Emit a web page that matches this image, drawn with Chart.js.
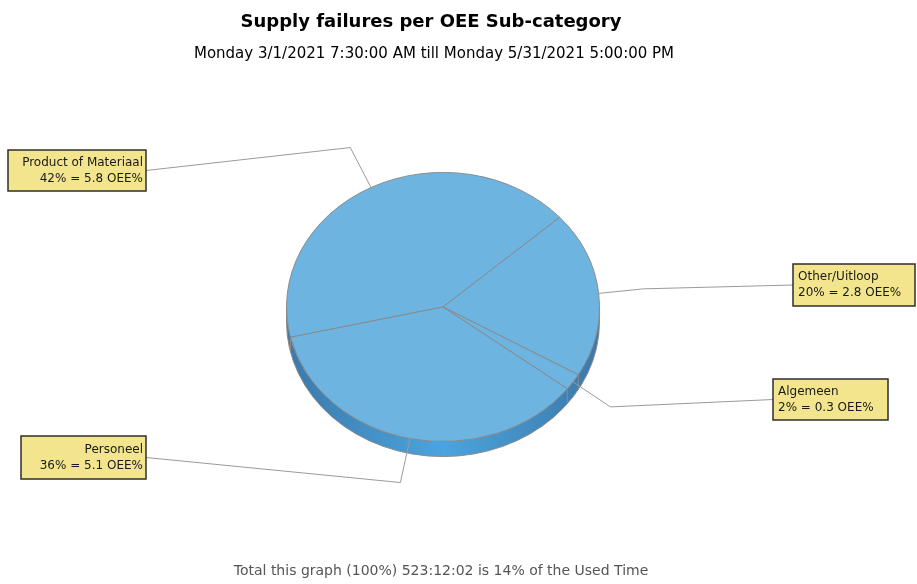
<!DOCTYPE html>
<html lang="en">
<head>
<meta charset="UTF-8">
<title>Supply failures per OEE Sub-category</title>
<script src="https://cdn.jsdelivr.net/npm/chart.js@4"></script>
<style>
html,body{margin:0;padding:0;background:#fff}
#wrap{position:relative;width:917px;height:584px}
</style>
</head>
<body>
<div id="wrap"><canvas id="chart"></canvas></div>
<script>
const categories = ['Product of Materiaal', 'Other/Uitloop', 'Algemeen', 'Personeel'];
const sharePct = [42, 20, 2, 36];
const oeePct = [5.8, 2.8, 0.3, 5.1];
const titleText = 'Supply failures per OEE Sub-category';
const periodText = 'Monday 3/1/2021 7:30:00 AM till Monday 5/31/2021 5:00:00 PM';
const footerText = 'Total this graph (100%) 523:12:02 is 14% of the Used Time';

// callout boxes, one per category (same order)
const callouts = [
  {x: 8, y: 150, w: 138, h: 41, align: 'right'},
  {x: 793, y: 264, w: 122, h: 42, align: 'left'},
  {x: 773, y: 379, w: 115, h: 41, align: 'left'},
  {x: 21, y: 436, w: 125, h: 43, align: 'right'}
];
const TILT = 0.86;   // vertical squash of the pie face
const DEPTH = 15;    // rim thickness
const LEAD = 45;     // first leg of the leader line
const FONT = '"DejaVu Sans", Tahoma, sans-serif';

const tiltedPie = {
  id: 'tiltedPie',
  beforeDatasetsDraw(chart) {
    const ctx = chart.ctx;
    const arcs = chart.getDatasetMeta(0).data;
    const cx = arcs[0].x, cy = arcs[0].y, r = arcs[0].outerRadius, ry = r * TILT;

    // side of the disc
    const g = ctx.createLinearGradient(cx - r, 0, cx + r, 0);
    g.addColorStop(0, '#3b79aa');
    g.addColorStop(0.5, '#4ba4de');
    g.addColorStop(1, '#3b79aa');
    ctx.save();
    ctx.beginPath();
    ctx.ellipse(cx, cy, r, ry, 0, 0, Math.PI, false);
    ctx.ellipse(cx, cy + DEPTH, r, ry, 0, Math.PI, 0, true);
    ctx.closePath();
    ctx.fillStyle = g;
    ctx.fill();
    ctx.strokeStyle = '#8a8a8a';
    ctx.lineWidth = 1;
    ctx.stroke();
    arcs.forEach(a => {
      const t = ((a.startAngle % (2 * Math.PI)) + 2 * Math.PI) % (2 * Math.PI);
      if (t > 0 && t < Math.PI) {
        const px = cx + r * Math.cos(t), py = cy + ry * Math.sin(t);
        ctx.beginPath();
        ctx.moveTo(px, py);
        ctx.lineTo(px, py + DEPTH);
        ctx.stroke();
      }
    });
    ctx.restore();

    // squash the slices into an ellipse
    ctx.save();
    ctx.translate(cx, cy);
    ctx.scale(1, TILT);
    ctx.translate(-cx, -cy);
  },
  afterDatasetsDraw(chart) {
    const ctx = chart.ctx;
    ctx.restore();
    const arcs = chart.getDatasetMeta(0).data;
    const cx = arcs[0].x, cy = arcs[0].y, r = arcs[0].outerRadius, ry = r * TILT;

    arcs.forEach((a, i) => {
      const box = callouts[i];
      const mid = (a.startAngle + a.endAngle) / 2;
      const c = Math.cos(mid), s = Math.sin(mid);
      const ax = cx + r * c, ay = cy + ry * s;
      const ex = ax + LEAD * c, ey = ay + LEAD * s;
      const bx = box.x + box.w / 2 < cx ? box.x + box.w : box.x;
      const by = box.y + box.h / 2;

      ctx.save();
      ctx.strokeStyle = '#9a9a9a';
      ctx.lineWidth = 1;
      ctx.beginPath();
      ctx.moveTo(ax, ay);
      ctx.lineTo(ex, ey);
      ctx.lineTo(bx, by);
      ctx.stroke();

      ctx.fillStyle = '#f2e58e';
      ctx.fillRect(box.x, box.y, box.w, box.h);
      ctx.strokeStyle = '#2e2e2e';
      ctx.lineWidth = 1.5;
      ctx.strokeRect(box.x, box.y, box.w, box.h);

      ctx.fillStyle = '#1a1a1a';
      ctx.font = '12px ' + FONT;
      ctx.textBaseline = 'middle';
      ctx.textAlign = box.align;
      const tx = box.align === 'right' ? box.x + box.w - 3 : box.x + 5;
      ctx.fillText(categories[i], tx, by - 8);
      ctx.fillText(sharePct[i] + '% = ' + oeePct[i].toFixed(1) + ' OEE%', tx, by + 8);
      ctx.restore();
    });
  },
  afterDraw(chart) {
    const ctx = chart.ctx;
    ctx.save();
    ctx.textAlign = 'center';
    ctx.textBaseline = 'middle';
    ctx.fillStyle = '#000';
    ctx.font = 'bold 18px ' + FONT;
    ctx.fillText(titleText, 431, 22);
    ctx.font = '15px ' + FONT;
    ctx.fillText(periodText, 434, 54);
    ctx.fillStyle = '#555';
    ctx.font = '14px ' + FONT;
    ctx.fillText(footerText, 441, 571);
    ctx.restore();
  }
};

new Chart(document.getElementById('chart'), {
  type: 'pie',
  data: {
    labels: categories,
    datasets: [{
      data: sharePct,
      backgroundColor: '#6db4e0',
      borderColor: '#888888',
      borderWidth: 1
    }]
  },
  options: {
    responsive: true,
    maintainAspectRatio: false,
    animation: false,
    rotation: 257,
    layout: {padding: {left: 286, right: 317, top: 150, bottom: 120}},
    plugins: {
      legend: {display: false},
      tooltip: {enabled: false}
    },
    events: []
  },
  plugins: [tiltedPie]
});
</script>
</body>
</html>
